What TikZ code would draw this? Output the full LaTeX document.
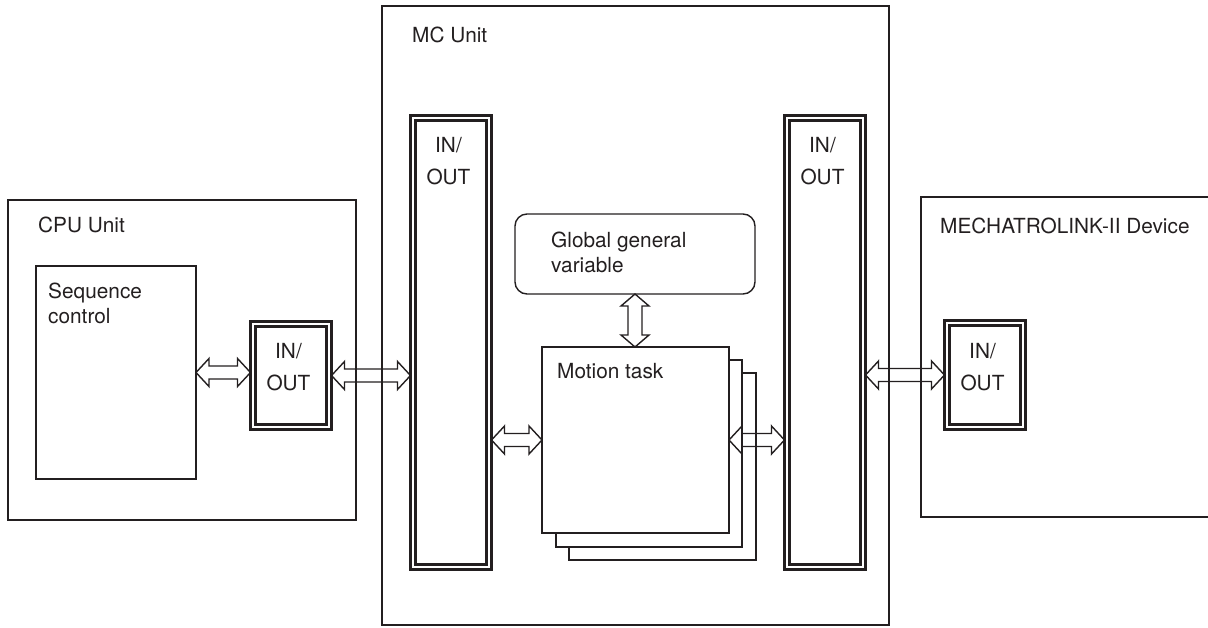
\documentclass[tikz,border=0pt]{standalone}
\usepackage{fontspec}
\setmainfont{TeX Gyre Heros}
\usetikzlibrary{calc}
\definecolor{ink}{RGB}{35,31,32}
\newcommand{\hdarrow}[2]{\draw[arr] let \p1=(#1), \p2=(#2) in
  (\x1,\y1) -- ++(13pt,14pt) -- ++(0pt,-7.5pt) -- (\x2-13pt,\y1+6.5pt) -- ++(0pt,7.5pt)
  -- (\x2,\y1) -- ++(-13pt,-14pt) -- ++(0pt,7.5pt) -- (\x1+13pt,\y1-6.5pt) -- ++(0pt,-7.5pt) -- cycle;}
\newcommand{\vdarrow}[2]{\draw[arr] let \p1=(#1), \p2=(#2) in
  (\x1,\y1) -- ++(14pt,-12pt) -- ++(-7pt,0pt) -- (\x1+7pt,\y2+12pt) -- ++(7pt,0pt)
  -- (\x1,\y2) -- ++(-14pt,12pt) -- ++(7pt,0pt) -- (\x1-7pt,\y1-12pt) -- ++(-7pt,0pt) -- cycle;}
\begin{document}
\begin{tikzpicture}[x=1pt,y=-1pt,
  box/.style={draw=ink, line width=1.4pt, anchor=north west, inner sep=0pt, outer sep=0pt},
  iobox/.style={draw=ink, line width=2.1pt, double=white, double distance=2.9pt,
    anchor=north west, inner sep=0pt, outer sep=2.5pt, minimum width=76pt},
  lbl/.style={text=ink, font=\fontsize{20.8}{25}\selectfont, inner sep=0pt, anchor=base west},
  mlbl/.style={text=ink, font=\fontsize{20.8}{25}\selectfont, inner sep=0pt, anchor=north west, align=left},
  iotxt/.style={text=ink, font=\fontsize{20.8}{32}\selectfont, inner sep=0pt, anchor=north, align=center},
  arr/.style={draw=ink, line width=1.4pt, line join=miter}]
\useasboundingbox (0,0) rectangle (1208,627);

% CPU Unit
\node[box, minimum width=348pt, minimum height=320pt] (cpu) at (8,200) {};
\node[box, minimum width=160pt, minimum height=213pt] (seq) at (36,266) {};
\node[iobox, minimum height=103pt] (cpuio) at (250.5,321.5) {};
\node[lbl] (cput) at (38,232) {CPU Unit};
\node[mlbl] (seqt) at (48,283) {Sequence\\control};
\node[iotxt] (cpuiot) at (288.5,343) {IN/\\OUT};

% MC Unit
\node[box, minimum width=507pt, minimum height=619pt] (mc) at (382,6) {};
\node[lbl] (mct) at (412,42) {MC Unit};
\node[iobox, minimum height=449pt] (lcol) at (410.5,115.5) {};
\node[iobox, minimum height=449pt] (rcol) at (784.5,115.5) {};
\node[iotxt] (lcolt) at (448.5,137) {IN/\\OUT};
\node[iotxt] (rcolt) at (822.5,137) {IN/\\OUT};
\node[box, rounded corners=12pt, minimum width=240pt, minimum height=80pt] (gv) at (515,214) {};
\node[mlbl] (gvt) at (551,232) {Global general\\variable};
\node[box, fill=white, minimum width=187pt, minimum height=187pt] (mt3) at (569,373) {};
\node[box, fill=white, minimum width=186pt, minimum height=187pt] (mt2) at (556,360) {};
\node[box, fill=white, minimum width=187pt, minimum height=186pt] (mt) at (542,347) {};
\node[lbl] (mtt) at (557,378) {Motion task};

% MECHATROLINK-II Device
\coordinate (devtr) at (1212,197);
\coordinate (devtl) at (921,197);
\coordinate (devbl) at (921,517);
\coordinate (devbr) at (1212,517);
\draw[ink, line width=1.4pt] (devtr) -- (devtl) -- (devbl) -- (devbr);
\node[lbl] (devt) at (940,233) {MECHATROLINK-II Device};
\node[iobox, minimum height=104pt] (devio) at (944.5,320.5) {};
\node[iotxt] (deviot) at (982.5,343) {IN/\\OUT};

% connectors
\hdarrow{seq.east}{cpuio.west |- seq.east}
\hdarrow{cpuio.east}{lcol.west |- cpuio.east}
\hdarrow{lcol.east |- mt.west}{mt.west}
\hdarrow{mt.east}{rcol.west |- mt.east}
\hdarrow{rcol.east |- devio.west}{devio.west}
\vdarrow{gv.south}{mt.north}
\end{tikzpicture}
\end{document}
